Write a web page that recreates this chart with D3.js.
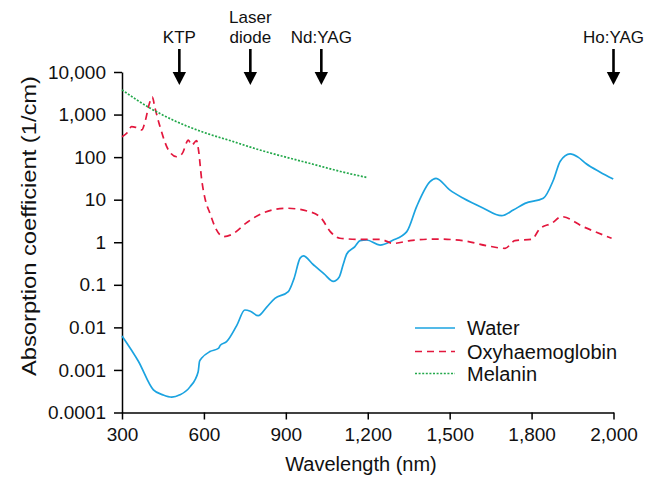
<!DOCTYPE html>
<html lang="en">

<head>
    <meta charset="UTF-8">
    <title>Absorption coefficient</title>
    <script src="https://d3js.org/d3.v7.min.js"></script>
    <style>
        body {
            margin: 0;
            background: #fff;
        }

        svg {
            display: block;
            font-family: "Liberation Sans", Arial, sans-serif;
        }
    </style>
</head>

<body>
<svg width="657" height="479"></svg>

<script>
    // wavelength (nm), absorption coefficient (1/cm)
    const water = [
        [300, 0.0063], [360, 0.0016], [415, 0.00034], [450, 0.00026], [482, 0.00023],
        [512, 0.00026], [549, 0.0004], [579, 0.00091], [584, 0.0016], [592, 0.0019],
        [622, 0.0027], [653, 0.0032], [660, 0.0038], [683, 0.0046], [720, 0.011],
        [750, 0.0256], [770, 0.024], [799, 0.0188], [830, 0.03], [860, 0.048],
        [909, 0.069], [930, 0.14], [952, 0.42], [964, 0.48], [1000, 0.3],
        [1040, 0.18], [1074, 0.12], [1095, 0.15], [1110, 0.3], [1123, 0.53],
        [1153, 0.79], [1172, 1.09], [1196, 1.13], [1245, 0.86], [1290, 1.1],
        [1343, 1.78], [1379, 6.9], [1428, 26.5], [1450, 31.8], [1500, 17],
        [1550, 10.8], [1620, 6.5], [1690, 4.2], [1733, 5.7], [1776, 8.2],
        [1843, 10.8], [1880, 29], [1905, 80], [1941, 119], [1970, 100],
        [2000, 70], [2050, 45], [2099, 30.6]
    ];

    const oxy = [
        [300, 300], [320, 380], [335, 520], [350, 500], [372, 435],
        [385, 700], [400, 1800], [411, 2600], [420, 1500], [440, 500],
        [470, 147], [500, 102], [520, 120], [543, 250], [555, 190],
        [573, 243], [580, 150], [592, 29], [605, 10], [622, 4.8],
        [645, 2.0], [671, 1.35], [700, 1.5], [760, 3], [817, 4.9],
        [903, 6.3], [988, 5.2], [1031, 3.6], [1062, 1.8], [1098, 1.24],
        [1172, 1.17], [1245, 1.17], [1294, 0.94], [1355, 1.09], [1452, 1.19],
        [1550, 1.09], [1636, 0.83], [1703, 0.72], [1739, 1.09], [1800, 1.17],
        [1831, 2.1], [1874, 2.8], [1910, 4.0], [1990, 2.3], [2093, 1.24]
    ];

    const melanin = [
        [300, 3800], [400, 1450], [500, 680], [600, 380], [700, 240],
        [800, 150], [900, 100], [1000, 68], [1100, 46], [1200, 33]
    ];

    const lasers = ["KTP", "Laser\ndiode", "Nd:YAG", "Ho:YAG"];
    const laserWavelengths = [510, 770, 1030, 2100];

    const xTicks = [300, 600, 900, 1200, 1500, 1800, 2100];
    const xTickLabels = ["300", "600", "900", "1,200", "1,500", "1,800", "2,000"];
    const yTicks = [10000, 1000, 100, 10, 1, 0.1, 0.01, 0.001, 0.0001];
    const yTickLabels = ["10,000", "1,000", "100", "10", "1", "0.1", "0.01", "0.001", "0.0001"];

    const seriesNames = ["Water", "Oxyhaemoglobin", "Melanin"];
    const seriesData = [water, oxy, melanin];
    const seriesColors = ["#1ba3e0", "#e3173d", "#22a84a"];
    const seriesDash = [null, "7,5", "2,1.6"];

    const margin = { top: 72, right: 43.5, bottom: 66.5, left: 122 };
    const svg = d3.select("svg");
    const width = +svg.attr("width") - margin.left - margin.right;
    const height = +svg.attr("height") - margin.top - margin.bottom;

    const x = d3.scaleLinear().domain([300, 2100]).range([0, width]);
    const y = d3.scaleLog().domain([0.0001, 10000]).range([height, 0]);

    const g = svg.append("g").attr("transform", `translate(${margin.left},${margin.top})`);

    // axes
    const xAxis = g.append("g")
        .attr("transform", `translate(0,${height})`)
        .call(d3.axisBottom(x)
            .tickValues(xTicks)
            .tickFormat((d, i) => xTickLabels[i])
            .tickSize(7)
            .tickSizeOuter(0)
            .tickPadding(8));

    const yAxis = g.append("g")
        .call(d3.axisLeft(y)
            .tickValues(yTicks)
            .tickFormat((d, i) => yTickLabels[i])
            .tickSize(8)
            .tickSizeOuter(0)
            .tickPadding(8));

    [xAxis, yAxis].forEach(a => {
        a.select(".domain").attr("stroke", "#000").attr("stroke-width", 1.5);
        a.selectAll(".tick line").attr("stroke", "#000").attr("stroke-width", 1.5);
        a.selectAll(".tick text")
            .attr("fill", "#111")
            .style("font-size", "19px")
            .style("font-family", "'Liberation Sans', Arial, sans-serif");
    });

    svg.append("text")
        .attr("x", 361)
        .attr("y", 471)
        .attr("text-anchor", "middle")
        .style("font-size", "20px")
        .attr("fill", "#111")
        .text("Wavelength (nm)");

    svg.append("text")
        .attr("transform", "translate(36,226) rotate(-90)")
        .attr("text-anchor", "middle")
        .attr("textLength", 300)
        .attr("lengthAdjust", "spacingAndGlyphs")
        .style("font-size", "20px")
        .attr("fill", "#111")
        .text("Absorption coefficient (1/cm)");

    // curves
    const line = d3.line()
        .x(d => x(d[0]))
        .y(d => y(d[1]))
        .curve(d3.curveMonotoneX);

    seriesData.forEach((data, i) => {
        g.append("path")
            .datum(data)
            .attr("fill", "none")
            .attr("stroke", seriesColors[i])
            .attr("stroke-width", 1.7)
            .attr("stroke-dasharray", seriesDash[i])
            .attr("d", line);
    });

    // laser arrows
    lasers.forEach((name, i) => {
        const ax = margin.left + x(laserWavelengths[i]);
        const lines = name.split("\n");
        lines.forEach((t, j) => {
            svg.append("text")
                .attr("x", ax)
                .attr("y", 43.3 - (lines.length - 1 - j) * 20)
                .attr("text-anchor", "middle")
                .style("font-size", "17px")
                .attr("fill", "#111")
                .text(t);
        });
        svg.append("line")
            .attr("x1", ax).attr("x2", ax)
            .attr("y1", 49).attr("y2", 74)
            .attr("stroke", "#000")
            .attr("stroke-width", 2.6);
        svg.append("path")
            .attr("d", `M${ax - 6.7},72 L${ax + 6.7},72 L${ax},85 Z`)
            .attr("fill", "#000");
    });

    // legend
    const legend = svg.append("g");
    const legendY = [328, 351.5, 373.5];
    seriesNames.forEach((name, i) => {
        legend.append("line")
            .attr("x1", 415).attr("x2", 455)
            .attr("y1", legendY[i]).attr("y2", legendY[i])
            .attr("stroke", seriesColors[i])
            .attr("stroke-width", 1.6)
            .attr("stroke-dasharray", seriesDash[i]);
        legend.append("text")
            .attr("x", 467)
            .attr("y", legendY[i])
            .attr("dy", "0.35em")
            .style("font-size", "20px")
            .attr("fill", "#111")
            .text(name);
    });
</script>
</body>

</html>
